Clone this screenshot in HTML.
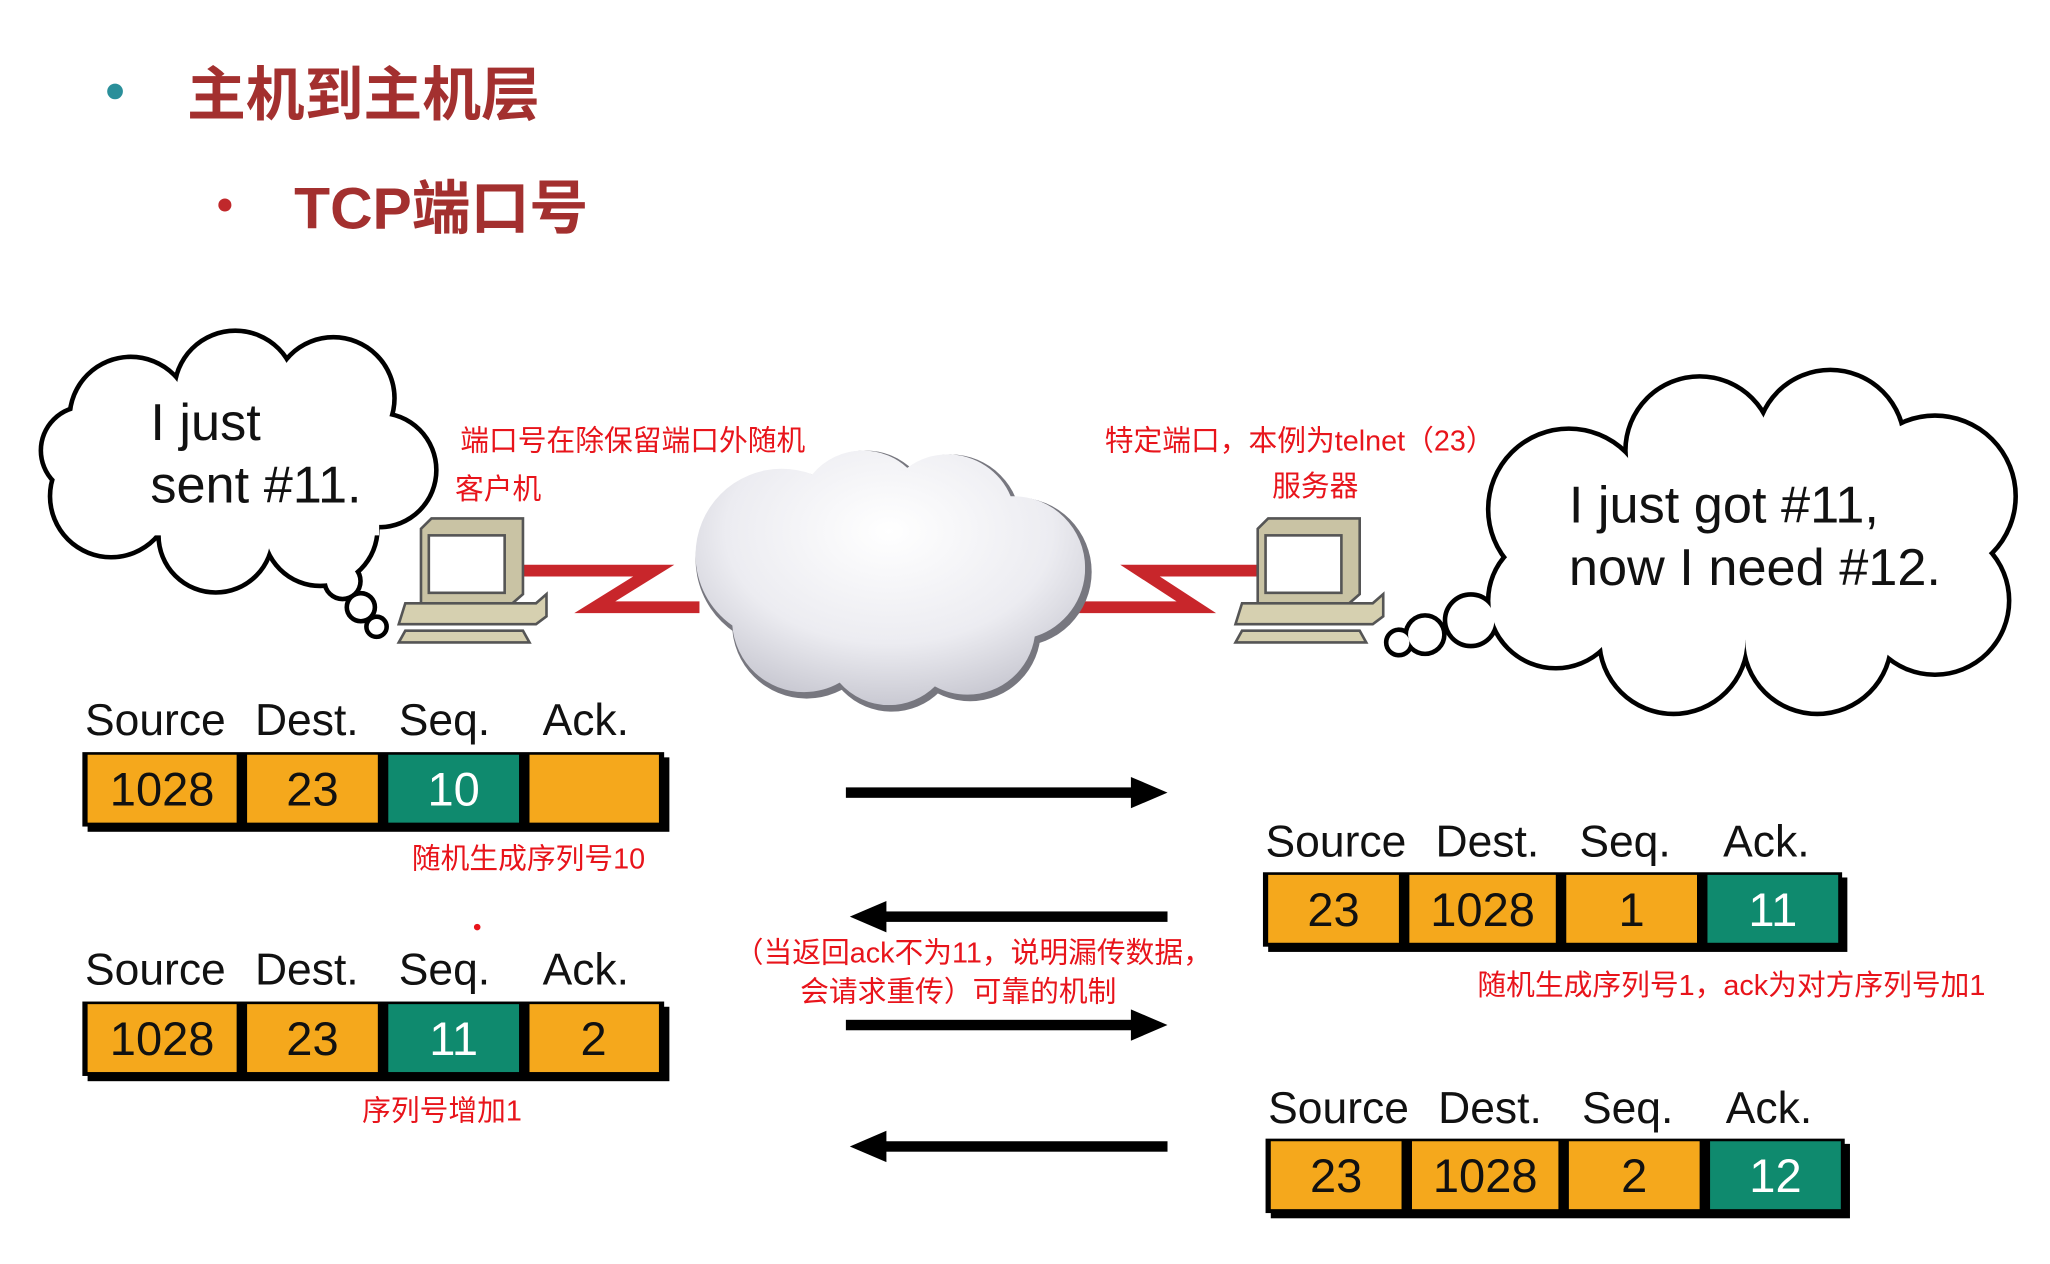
<!DOCTYPE html>
<html><head><meta charset="utf-8"><style>
html,body{margin:0;padding:0;background:#fff;}
svg{display:block;}
.t{font-family:"Liberation Sans","Noto Sans CJK SC",sans-serif;}
.r{fill:#e8141b;font-size:22px;font-family:"Liberation Sans","Noto Sans CJK SC",sans-serif;}
.h{font-size:34px;fill:#111;font-family:"Liberation Sans",sans-serif;}
.b{font-size:36px;fill:#111;font-family:"Liberation Sans",sans-serif;text-anchor:middle;}
.w{fill:#fff;}
</style></head><body>
<svg width="2050" height="1264" viewBox="0 0 1568 968" preserveAspectRatio="none" xmlns="http://www.w3.org/2000/svg">
<rect width="1568" height="968" fill="#fff"/>
<circle cx="88" cy="70" r="6" fill="#2a8f9a"/>
<text x="143" y="88" class="t" font-size="45" font-weight="bold" fill="#a3302f">主机到主机层</text>
<circle cx="172" cy="157" r="5" fill="#c0282b"/>
<text x="225" y="175" class="t" font-size="45" font-weight="bold" fill="#a3302f">TCP端口号</text>

<!-- left cloud -->
<g stroke="#000" stroke-width="7" fill="#000">
<circle cx="100" cy="320" r="45"/><circle cx="180" cy="300" r="45"/><circle cx="255" cy="305" r="45"/><circle cx="290" cy="360" r="42"/><circle cx="245" cy="405" r="42"/><circle cx="165" cy="410" r="42"/><circle cx="85" cy="380" r="45"/><circle cx="65" cy="345" r="32"/>
<circle cx="262" cy="445" r="12"/><circle cx="276" cy="465" r="9"/><circle cx="288" cy="480" r="6"/>
</g>
<g fill="#fff">
<circle cx="100" cy="320" r="45"/><circle cx="180" cy="300" r="45"/><circle cx="255" cy="305" r="45"/><circle cx="290" cy="360" r="42"/><circle cx="245" cy="405" r="42"/><circle cx="165" cy="410" r="42"/><circle cx="85" cy="380" r="45"/><circle cx="65" cy="345" r="32"/><rect x="90" y="310" width="200" height="100"/>
<circle cx="262" cy="445" r="12"/><circle cx="276" cy="465" r="9"/><circle cx="288" cy="480" r="6"/>
</g>
<text x="115" y="337" class="t" font-size="40" fill="#111">I just</text>
<text x="115" y="385" class="t" font-size="40" fill="#111">sent #11.</text>

<!-- right cloud -->
<g stroke="#000" stroke-width="7" fill="#000">
<circle cx="1200" cy="390" r="60"/><circle cx="1300" cy="345" r="55"/><circle cx="1400" cy="340" r="55"/><circle cx="1480" cy="380" r="60"/><circle cx="1480" cy="460" r="55"/><circle cx="1390" cy="490" r="55"/><circle cx="1280" cy="490" r="55"/><circle cx="1190" cy="460" r="50"/>
<circle cx="1125" cy="475" r="18"/><circle cx="1090" cy="486" r="13"/><circle cx="1070" cy="492" r="8"/>
</g>
<g fill="#fff">
<circle cx="1200" cy="390" r="60"/><circle cx="1300" cy="345" r="55"/><circle cx="1400" cy="340" r="55"/><circle cx="1480" cy="380" r="60"/><circle cx="1480" cy="460" r="55"/><circle cx="1390" cy="490" r="55"/><circle cx="1280" cy="490" r="55"/><circle cx="1190" cy="460" r="50"/><rect x="1190" y="360" width="300" height="130"/>
<circle cx="1125" cy="475" r="18"/><circle cx="1090" cy="486" r="13"/><circle cx="1070" cy="492" r="8"/>
</g>
<text x="1200" y="400" class="t" font-size="40" fill="#111">I just got #11,</text>
<text x="1200" y="448" class="t" font-size="40" fill="#111">now I need #12.</text>

<!-- red links -->
<path d="M395 437 H500 L455 465 H535" stroke="#c8262b" stroke-width="9" fill="none"/>
<path d="M820 465 H915 L872 437 H965" stroke="#c8262b" stroke-width="9" fill="none"/>

<!-- middle cloud -->
<defs>
<radialGradient id="g" cx="50%" cy="35%" r="65%"><stop offset="0" stop-color="#ffffff"/><stop offset="0.6" stop-color="#ececf1"/><stop offset="1" stop-color="#c2c2cc"/></radialGradient>
<clipPath id="cc">
<circle cx="598" cy="425" r="66"/><circle cx="660" cy="395" r="50"/><circle cx="725" cy="400" r="52"/><circle cx="775" cy="435" r="55"/><circle cx="740" cy="480" r="52"/><circle cx="680" cy="490" r="50"/><circle cx="615" cy="475" r="55"/><rect x="580" y="400" width="200" height="90"/>
</clipPath>
</defs>
<g fill="#77777f">
<circle cx="600" cy="428" r="68"/><circle cx="662" cy="397" r="52"/><circle cx="727" cy="402" r="54"/><circle cx="778" cy="438" r="57"/><circle cx="742" cy="483" r="54"/><circle cx="682" cy="493" r="52"/><circle cx="617" cy="478" r="57"/>
</g>
<rect x="520" y="330" width="320" height="220" fill="url(#g)" clip-path="url(#cc)"/>

<!-- computers -->
<g id="pc">
<path d="M322 405 L330 397 H400 V455 L392 462 H322 Z" fill="#c9c3a4" stroke="#555" stroke-width="2"/>
<rect x="328" y="410" width="58" height="44" fill="#fff" stroke="#555" stroke-width="2"/>
<path d="M310 462 H410 L418 455 V472 L410 478 H305 Z" fill="#d6d0b0" stroke="#555" stroke-width="2"/>
<path d="M310 483 H400 L405 492 H305 Z" fill="#d6d0b0" stroke="#555" stroke-width="2"/>
</g>
<use href="#pc" transform="translate(640,0)"/>

<!-- red notes -->
<text x="352" y="345" class="r">端口号在除保留端口外随机</text>
<text x="348" y="382" class="r">客户机</text>
<text x="845" y="345" class="r">特定端口，本例为telnet（23）</text>
<text x="973" y="380" class="r">服务器</text>
<text x="315" y="665" class="r">随机生成序列号10</text>
<text x="277" y="858" class="r">序列号增加1</text>
<circle cx="365" cy="710" r="2.5" fill="#e8141b"/>
<text x="562" y="737" class="r">（当返回ack不为11，说明漏传数据，</text>
<text x="612" y="767" class="r">会请求重传）可靠的机制</text>
<text x="1130" y="762" class="r">随机生成序列号1，ack为对方序列号加1</text>

<!-- arrows -->
<g fill="#000">
<rect x="647" y="603" width="220" height="8"/><path d="M865 595 L893 607 L865 619Z"/>
<rect x="676" y="698" width="217" height="8"/><path d="M678 690 L650 702 L678 714Z"/>
<rect x="647" y="781" width="220" height="8"/><path d="M865 773 L893 785 L865 797Z"/>
<rect x="676" y="874" width="217" height="8"/><path d="M678 866 L650 878 L678 890Z"/>
</g>

<!-- packets -->
<g id="p1">
<text x="65" y="563" class="h">Source</text><text x="195" y="563" class="h">Dest.</text><text x="305" y="563" class="h">Seq.</text><text x="415" y="563" class="h">Ack.</text>
<rect x="67" y="580" width="445" height="57" fill="#000"/>
<rect x="63" y="576" width="445" height="57" fill="#000"/>
<rect x="67" y="578" width="114" height="52" fill="#f5a81c"/>
<rect x="189" y="578" width="100" height="52" fill="#f5a81c"/>
<rect x="297" y="578" width="100" height="52" fill="#0f8a6e"/>
<rect x="405" y="578" width="99" height="52" fill="#f5a81c"/>
</g>
<text x="124" y="617" class="b">1028</text><text x="239" y="617" class="b">23</text><text x="347" y="617" class="b w">10</text>
<use href="#p1" transform="translate(0,191)"/>
<text x="124" y="808" class="b">1028</text><text x="239" y="808" class="b">23</text><text x="347" y="808" class="b w">11</text><text x="454" y="808" class="b">2</text>

<g id="p3">
<text x="968" y="656" class="h">Source</text><text x="1098" y="656" class="h">Dest.</text><text x="1208" y="656" class="h">Seq.</text><text x="1318" y="656" class="h">Ack.</text>
<rect x="970" y="672" width="443" height="57" fill="#000"/>
<rect x="966" y="668" width="443" height="57" fill="#000"/>
<rect x="970" y="670" width="100" height="52" fill="#f5a81c"/>
<rect x="1078" y="670" width="112" height="52" fill="#f5a81c"/>
<rect x="1198" y="670" width="100" height="52" fill="#f5a81c"/>
<rect x="1306" y="670" width="100" height="52" fill="#0f8a6e"/>
</g>
<text x="1020" y="709" class="b">23</text><text x="1134" y="709" class="b">1028</text><text x="1248" y="709" class="b">1</text><text x="1356" y="709" class="b w">11</text>
<use href="#p3" transform="translate(2,204)"/>
<text x="1022" y="913" class="b">23</text><text x="1136" y="913" class="b">1028</text><text x="1250" y="913" class="b">2</text><text x="1358" y="913" class="b w">12</text>
</svg>
</body></html>
